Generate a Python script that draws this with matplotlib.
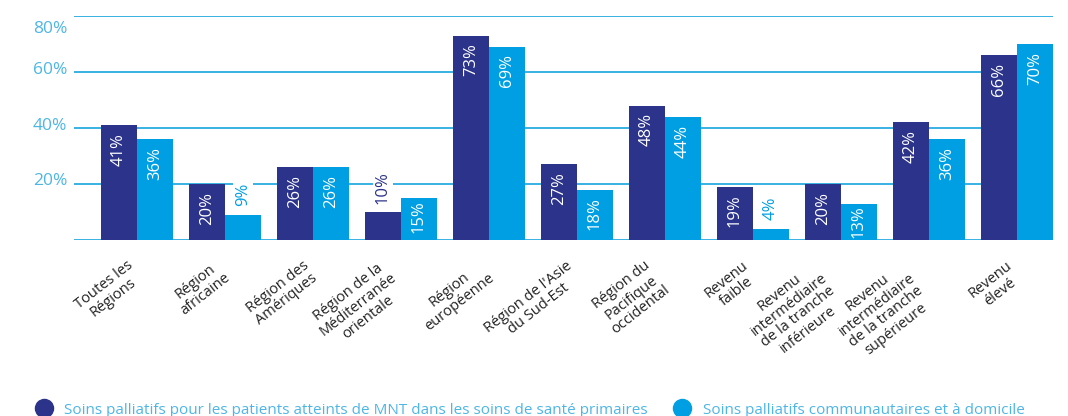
import matplotlib
matplotlib.use('Agg')
import numpy as np
import matplotlib.pyplot as plt
from matplotlib.lines import Line2D
from matplotlib.transforms import ScaledTranslation

categories = ["Toutes les\nRégions", "Région\nafricaine", "Région des\nAmériques",
              "Région de la\nMéditerranée\norientale", "Région\neuropéenne",
              "Région de l'Asie\ndu Sud-Est", "Région du\nPacifique\noccidental",
              "Revenu\nfaible", "Revenu\nintermédiaire\nde la tranche\ninférieure",
              "Revenu\nintermédiaire\nde la tranche\nsupérieure", "Revenu\nélevé"]
primary_care = [41, 20, 26, 10, 73, 27, 48, 19, 20, 42, 66]
community_care = [36, 9, 26, 15, 69, 18, 44, 4, 13, 36, 70]
y_ticks = [0, 20, 40, 60, 80]
y_labels = ['', '20%', '40%', '60%', '80%']
legend_labels = ['Soins palliatifs pour les patients atteints de MNT dans les soins de santé primaires',
                 'Soins palliatifs communautaires et à domicile']

NAVY = '#2B338A'
CYAN = '#009FE3'
GRID = '#29ABE2'
LABEL = '#4DB6E6'

plt.rcParams['font.family'] = ['Open Sans', 'DejaVu Sans']

fig = plt.figure(figsize=(10.68, 4.16), dpi=100)
ax = fig.add_axes([74 / 1068, 1 - 240 / 416, (1053 - 74) / 1068, (240 - 16) / 416])

x = np.arange(len(categories))
w = 0.409
b1 = ax.bar(x - w / 2, primary_care, w, color=NAVY, zorder=3)
b2 = ax.bar(x + w / 2, community_care, w, color=CYAN, zorder=3)


def label_bars(bars, values, color):
    for rect, v in zip(bars, values):
        cx = rect.get_x() + rect.get_width() / 2
        if v >= 12:
            off = -5.5 if v >= 16 else -1.5
            ax.annotate(f'{v}%', (cx, v), xytext=(0, off), textcoords='offset points',
                        rotation=90, ha='center', va='top', color='white', fontsize=12, zorder=4)
        else:
            ax.annotate(f'{v}%', (cx, v), xytext=(0, 6), textcoords='offset points',
                        rotation=90, ha='center', va='bottom', color=color, fontsize=12, zorder=4,
                        bbox=dict(facecolor='white', edgecolor='none', pad=1.5))


label_bars(b1, primary_care, NAVY)
label_bars(b2, community_care, CYAN)

ax.set_xlim(-0.716, len(categories) - 1 + w)
ax.set_ylim(0, 80)
ax.set_yticks(y_ticks)
ax.set_yticklabels(y_labels, color=LABEL, fontsize=12.5)
ax.grid(axis='y', color=GRID, linewidth=1.3, zorder=0)
ax.set_axisbelow(True)
for s in ax.spines.values():
    s.set_visible(False)
ax.tick_params(axis='y', length=0, pad=5)
ax.tick_params(axis='x', length=0, pad=13)

# shift y labels a bit above their line, 80% sits under it
for t, val in zip(ax.get_yticklabels(), y_ticks):
    dy = -11 if val == 80 else 4.5
    t.set_transform(t.get_transform() + ScaledTranslation(0, dy / 100, fig.dpi_scale_trans))

ax.set_xticks(x)
ax.set_xticklabels(categories, fontsize=10.5, color='#222222')
for t in ax.get_xticklabels():
    t.set_rotation(38)
    t.set_ha('right')
    t.set_va('top')
    t.set_multialignment('center')
    t.set_linespacing(1.05)
    t.set_transform(t.get_transform() + ScaledTranslation(8 / 100, 0, fig.dpi_scale_trans))

handles = [Line2D([], [], marker='o', linestyle='none', markersize=13, color=NAVY),
           Line2D([], [], marker='o', linestyle='none', markersize=13, color=CYAN)]
leg = fig.legend(handles, legend_labels, loc='center left', bbox_to_anchor=(30 / 1068, 6 / 416),
                 ncol=2, frameon=False, fontsize=11, handletextpad=0.85, columnspacing=1.75,
                 borderaxespad=0, handlelength=1.0)
for t in leg.get_texts():
    t.set_color(LABEL)

fig.savefig('out.png', dpi=100)
